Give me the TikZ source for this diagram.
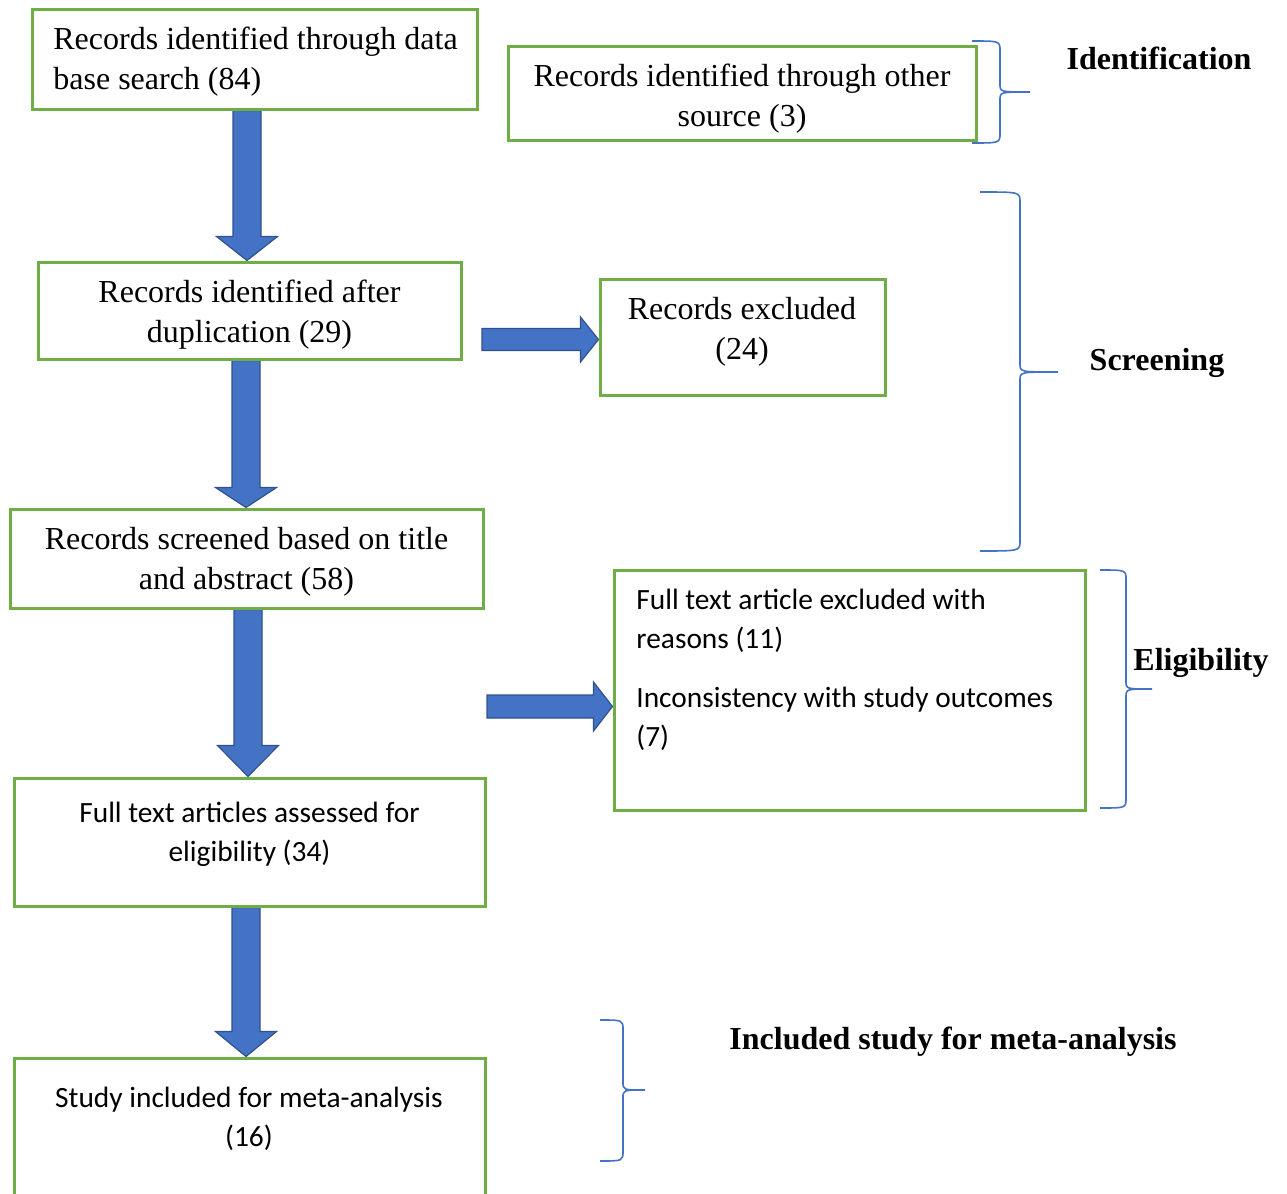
\documentclass[tikz,border=0pt]{standalone}
\usepackage{fontspec}
\setmainfont{Liberation Serif}
\newfontfamily\calibfont{Carlito}
\usetikzlibrary{calc,fit}
\pgfdeclarelayer{bg}
\pgfsetlayers{bg,main}
\definecolor{boxgreen}{HTML}{70AD47}
\definecolor{arrblue}{HTML}{4472C4}
\definecolor{arrline}{HTML}{2F528F}
\tikzset{
 box/.style={draw=boxgreen, line width=1.5pt, inner sep=0pt},
 serif/.style={font=\fontsize{16}{20}\selectfont, inner sep=0pt},
 sans/.style={font=\calibfont\fontsize{14.7}{19.5}\selectfont, inner sep=0pt},
 stage/.style={font=\bfseries\fontsize{16}{20}\selectfont, inner sep=0pt},
 blockarr/.style={fill=arrblue, draw=arrline, line width=0.6pt, line join=miter},
 bracepath/.style={draw=arrblue, line width=0.8pt},
}
% down block arrow: top point, tip point, head length
\newcommand\dnarr[3]{%
 \path[blockarr] let \p1=(#1), \p2=(#2) in
 (\x1-7pt,\y1) -- (\x1+7pt,\y1) -- (\x1+7pt,\y2+#3) -- (\x1+15.25pt,\y2+#3)
 -- (\x1,\y2) -- (\x1-15.25pt,\y2+#3) -- (\x1-7pt,\y2+#3) -- cycle;}
% right block arrow: start, tip, head length, shaft half, head half
\newcommand\rtarr[5]{%
 \path[blockarr] let \p1=(#1), \p2=(#2) in
 (\x1,\y1+#4) -- (\x2-#3,\y1+#4) -- (\x2-#3,\y1+#5) -- (\x2,\y1)
 -- (\x2-#3,\y1-#5) -- (\x2-#3,\y1-#4) -- (\x1,\y1-#4) -- cycle;}
% curly brace: x0,x1,x2,top,mid,bot
\newcommand\mybrace[6]{%
 \draw[bracepath] (#1,#4) .. controls (#2,#4) .. (#2,#4+10) -- (#2,#5-8)
 .. controls (#2,#5) .. (#3,#5) .. controls (#2,#5) .. (#2,#5+8)
 -- (#2,#6-10) .. controls (#2,#6) .. (#1,#6);}
\begin{document}
\begin{tikzpicture}[x=0.5pt,y=-0.5pt]
\useasboundingbox (0,0) rectangle (1287,1194);
\clip (0,0) rectangle (1287,1194);
% boxes
\node[box, fit={(32,9) (477,109)}] (b1) {};
\node[box, fit={(508,46) (976,140)}] (b2) {};
\node[box, fit={(38,262) (461,359)}] (b3) {};
\node[box, fit={(600,279) (885,395)}] (b4) {};
\node[box, fit={(10,509) (483,608)}] (b5) {};
\node[box, fit={(614,570) (1085,810)}] (b6) {};
\node[box, fit={(14,778) (485,906)}] (b7) {};
\node[box, fit={(14,1058) (485,1210)}] (b8) {};
% texts
\node[serif, anchor=west, align=left] (t1) at (53,62) {Records identified through data\\base search (84)};
\node[serif, align=center] (t2) at (742,99) {Records identified through other\\source (3)};
\node[serif, align=center] (t3) at (249.5,314.5) {Records identified after\\duplication (29)};
\node[serif, align=center] (t4) at (742,332) {Records excluded\\(24)};
\node[serif, align=center] (t5) at (246.5,562) {Records screened based on title\\and abstract (58)};
\node[sans, anchor=west, align=left] (t6) at (636,670) {Full text article excluded with\\reasons (11)\\[10pt]Inconsistency with study outcomes\\(7)};
\node[sans, align=center] (t7) at (249.5,834) {Full text articles assessed for\\eligibility (34)};
\node[sans, align=center] (t8) at (249,1119) {Study included for meta-analysis\\(16)};
% stage labels
\node[stage] (s1) at (1159,58) {Identification};
\node[stage] (s2) at (1157,363) {Screening};
\node[stage] (s3) at (1201,663) {Eligibility};
\node[stage] (s4) at (953,1042) {Included study for meta-analysis};
% arrows
\coordinate (ax1) at (247,0);
\coordinate (ax2) at (246,0);
\coordinate (ax3) at (248,0);
\coordinate (ax4) at (246,0);
\coordinate (r1s) at (482,339.5);
\coordinate (r2s) at (487,706.5);
\begin{pgfonlayer}{bg}
\dnarr{ax1 |- b1.south}{ax1 |- b3.north}{12pt}
\dnarr{ax2 |- b3.south}{ax2 |- b5.north}{10pt}
\dnarr{ax3 |- b5.south}{ax3 |- b7.north}{15.5pt}
\dnarr{ax4 |- b7.south}{ax4 |- b8.north}{12.5pt}
\rtarr{r1s}{b4.west}{9pt}{5.5pt}{11.25pt}
\rtarr{r2s}{b6.west}{9.5pt}{5.75pt}{12.25pt}
\end{pgfonlayer}
% braces
\mybrace{972}{1000}{1030}{41}{92}{143}
\mybrace{980}{1020}{1058}{192}{372}{551}
\mybrace{1100}{1126}{1152}{570}{689}{808}
\mybrace{600}{623}{645}{1020}{1090}{1161}
\end{tikzpicture}
\end{document}
